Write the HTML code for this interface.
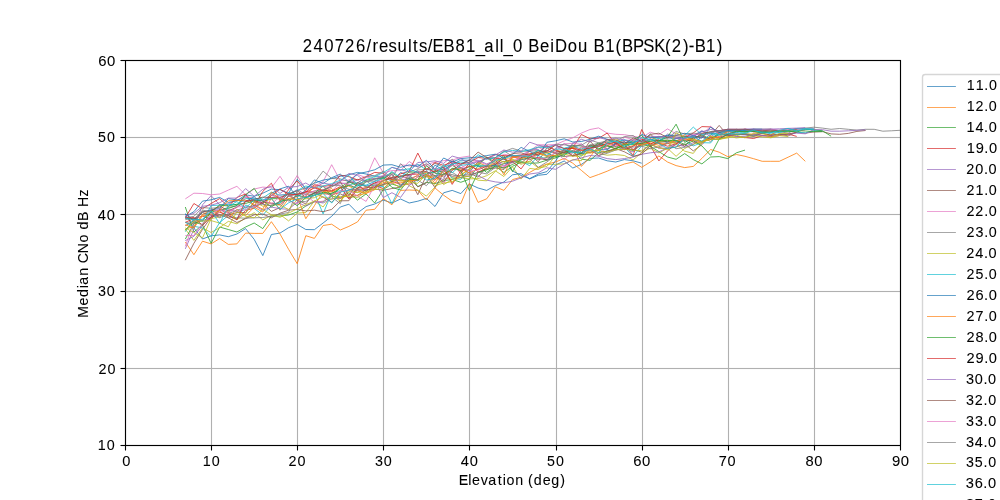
<!DOCTYPE html>
<html lang="en"><head><meta charset="utf-8"><title>240726/results/EB81_all_0 BeiDou B1(BPSK(2)-B1)</title>
<style>html,body{margin:0;padding:0;background:#fff;overflow:hidden}body{width:1000px;height:500px;font-family:"Liberation Sans", sans-serif}svg{display:block;will-change:transform}text{font-family:"Liberation Sans", sans-serif;fill:#000;stroke:#000;stroke-width:0.07px}</style>
</head><body>
<svg width="1000" height="500" viewBox="0 0 1000 500">
<rect x="0" y="0" width="1000" height="500" fill="#ffffff"/>
<g stroke="#b0b0b0" stroke-width="1.11" fill="none">
<line x1="125.5" y1="60.5" x2="125.5" y2="445.5"/>
<line x1="211.5" y1="60.5" x2="211.5" y2="445.5"/>
<line x1="297.5" y1="60.5" x2="297.5" y2="445.5"/>
<line x1="383.5" y1="60.5" x2="383.5" y2="445.5"/>
<line x1="469.5" y1="60.5" x2="469.5" y2="445.5"/>
<line x1="556.5" y1="60.5" x2="556.5" y2="445.5"/>
<line x1="642.5" y1="60.5" x2="642.5" y2="445.5"/>
<line x1="728.5" y1="60.5" x2="728.5" y2="445.5"/>
<line x1="814.5" y1="60.5" x2="814.5" y2="445.5"/>
<line x1="900.5" y1="60.5" x2="900.5" y2="445.5"/>
<rect x="125.5" y="444.945" width="775" height="1.11" fill="#b0b0b0" stroke="none"/>
<rect x="125.5" y="367.945" width="775" height="1.11" fill="#b0b0b0" stroke="none"/>
<rect x="125.5" y="290.945" width="775" height="1.11" fill="#b0b0b0" stroke="none"/>
<rect x="125.5" y="213.945" width="775" height="1.11" fill="#b0b0b0" stroke="none"/>
<rect x="125.5" y="136.945" width="775" height="1.11" fill="#b0b0b0" stroke="none"/>
<rect x="125.5" y="59.945" width="775" height="1.11" fill="#b0b0b0" stroke="none"/>
</g>
<clipPath id="ax"><rect x="125.5" y="60.5" width="775" height="385"/></clipPath>
<g clip-path="url(#ax)" fill="none" stroke-width="0.82" stroke-linejoin="round" stroke-linecap="butt">
<polyline stroke="#1f77b4" points="185.3,214.0 193.9,228.0 202.5,239.0 211.1,235.8 219.7,234.9 228.3,236.7 236.9,234.0 245.6,228.6 254.2,239.4 262.8,255.6 271.4,234.5 280.0,233.1 288.6,227.7 297.2,224.4 305.8,229.5 314.4,229.7 323.1,223.0 331.7,216.3 340.3,207.0 348.9,204.2 357.5,212.9 366.1,206.6 374.7,204.0 383.3,200.0 391.9,203.0 400.6,199.0 409.2,203.0 417.8,201.2 426.4,198.4 435.0,206.5 443.6,192.8 452.2,190.4 460.8,193.6 469.4,184.0 478.1,188.0 486.7,190.4 495.3,185.6 503.9,182.0 512.5,174.8 521.1,173.6 529.7,178.9 538.3,175.3 546.9,174.3 555.6,165.0 564.2,161.0 572.8,168.0 581.4,164.4 590.0,158.4 598.6,158.0 607.2,160.8 615.8,162.0 624.4,159.6 633.1,160.8 641.7,163.2"/>
<polyline stroke="#ff7f0e" points="185.3,242.0 193.9,254.7 202.5,241.2 211.1,243.9 219.7,238.5 228.3,244.4 236.9,243.9 245.6,233.1 254.2,233.4 262.8,233.4 271.4,221.7 280.0,234.0 288.6,249.3 297.2,263.7 305.8,235.7 314.4,238.4 323.1,225.5 331.7,224.2 340.3,230.0 348.9,226.4 357.5,221.9 366.1,210.2 374.7,209.3 383.3,198.5 391.9,204.8 400.6,190.4 409.2,190.0 417.8,190.4 426.4,200.0 435.0,188.0 443.6,195.2 452.2,201.2 460.8,203.6 469.4,183.2 478.1,202.4 486.7,198.8 495.3,186.8 503.9,190.4 512.5,179.6 521.1,177.2 529.7,172.4 538.3,167.6 546.9,164.0 555.6,162.0 564.2,158.4 572.8,163.2 581.4,170.4 590.0,177.6 598.6,174.5 607.2,171.2 615.8,167.3 624.4,164.0 633.1,162.0 641.7,167.3 650.3,162.0 658.9,156.0 667.5,162.0 676.1,165.6 684.7,167.6 693.3,166.4 701.9,158.4 710.6,149.5 719.2,152.2 727.8,156.7 736.4,154.5 745.0,156.3 753.6,158.7 762.2,161.3 770.8,161.3 779.4,161.3 788.1,157.2 796.7,153.1 805.3,161.3"/>
<polyline stroke="#2ca02c" points="185.3,207.0 193.9,232.0 202.5,225.0 211.1,243.3 219.7,227.0 228.3,229.5 236.9,232.0 245.6,227.0 254.2,223.0 262.8,228.6 271.4,216.0 280.0,216.0 288.6,215.0 297.2,212.0 305.8,206.0 314.4,201.7 323.1,201.9 331.7,196.0 340.3,198.0 348.9,192.7 357.5,200.1 366.1,193.9 374.7,203.0 383.3,189.5 391.9,184.0 400.6,186.8 409.2,174.2 417.8,186.6 426.4,182.3 435.0,183.6 443.6,180.7 452.2,179.4 460.8,182.3 469.4,179.2 478.1,165.4 486.7,172.5 495.3,166.1 503.9,172.5 512.5,166.3 521.1,162.3 529.7,163.3 538.3,162.9 546.9,160.2 555.6,157.9 564.2,154.0 572.8,151.5 581.4,159.1 590.0,160.4 598.6,152.9 607.2,151.3 615.8,148.0 624.4,145.8 633.1,150.9 641.7,144.7 650.3,146.2 658.9,151.6 667.5,157.0 676.1,159.3 684.7,153.6 693.3,159.6 701.9,163.9 710.6,157.0 719.2,156.6 727.8,158.6 736.4,152.8 745.0,150.1"/>
<polyline stroke="#d62728" points="185.3,222.3 193.9,218.7 202.5,216.1 211.1,219.1 219.7,209.2 228.3,212.4 236.9,219.4 245.6,210.5 254.2,208.1 262.8,202.0 271.4,203.1 280.0,204.8 288.6,195.7 297.2,194.4 305.8,191.7 314.4,192.1 323.1,193.7 331.7,194.4 340.3,192.6 348.9,181.1 357.5,184.5 366.1,191.5 374.7,185.4 383.3,188.6 391.9,181.3 400.6,184.3 409.2,184.1 417.8,176.9 426.4,174.8 435.0,180.3 443.6,170.6 452.2,163.1 460.8,173.6 469.4,163.2 478.1,172.0 486.7,168.5 495.3,165.0 503.9,167.8 512.5,156.9 521.1,156.1 529.7,159.3 538.3,157.3 546.9,160.2 555.6,155.5 564.2,149.4 572.8,156.2 581.4,152.7 590.0,148.9 598.6,144.5 607.2,142.0 615.8,146.2 624.4,143.9 633.1,155.5 641.7,129.5 650.3,145.5 658.9,160.9 667.5,150.9 676.1,143.9 684.7,140.1 693.3,140.8 701.9,141.4 710.6,137.3 719.2,137.1 727.8,135.0 736.4,136.2 745.0,137.5 753.6,138.5 762.2,135.7 770.8,136.6 779.4,135.5 788.1,134.0 796.7,136.4"/>
<polyline stroke="#9467bd" points="185.3,248.9 193.9,229.2 202.5,204.8 211.1,195.7 219.7,204.8 228.3,203.8 236.9,200.0 245.6,197.5 254.2,199.8 262.8,200.3 271.4,194.8 280.0,197.7 288.6,194.8 297.2,189.6 305.8,194.7 314.4,193.7 323.1,190.1 331.7,185.7 340.3,183.7 348.9,183.0 357.5,180.1 366.1,186.2 374.7,183.4 383.3,177.5 391.9,178.9 400.6,180.1 409.2,178.6 417.8,175.8 426.4,171.1 435.0,178.3 443.6,168.6 452.2,161.0 460.8,164.3 469.4,159.8 478.1,160.4 486.7,163.9 495.3,160.7 503.9,166.3 512.5,155.4 521.1,158.1 529.7,150.1 538.3,149.4 546.9,156.5 555.6,148.3 564.2,143.6 572.8,148.3 581.4,143.8 590.0,150.5 598.6,144.8 607.2,149.2 615.8,142.8 624.4,148.1 633.1,152.0 641.7,141.8 650.3,133.9 658.9,142.3 667.5,134.0 676.1,137.0 684.7,138.6 693.3,135.4 701.9,130.7 710.6,136.7 719.2,131.5 727.8,129.7 736.4,132.8 745.0,129.2 753.6,129.2 762.2,131.6 770.8,129.2 779.4,130.3 788.1,130.5 796.7,128.6 805.3,129.2 813.9,129.0"/>
<polyline stroke="#8c564b" points="185.3,260.2 193.9,243.3 202.5,229.4 211.1,217.1 219.7,215.0 228.3,214.8 236.9,212.6 245.6,212.7 254.2,202.2 262.8,203.4 271.4,211.4 280.0,207.6 288.6,195.7 297.2,200.0 305.8,203.9 314.4,192.4 323.1,197.1 331.7,202.2 340.3,193.9 348.9,197.7 357.5,195.4 366.1,189.7 374.7,189.0 383.3,190.3 391.9,188.5 400.6,187.1 409.2,177.9 417.8,186.8 426.4,182.9 435.0,170.3 443.6,177.1 452.2,169.4 460.8,167.5 469.4,173.1 478.1,177.2 486.7,166.8 495.3,164.5 503.9,161.4 512.5,162.7 521.1,157.7 529.7,154.8 538.3,161.8 546.9,147.7 555.6,153.0 564.2,156.5 572.8,155.6 581.4,147.1 590.0,147.0 598.6,156.0 607.2,150.6 615.8,149.8 624.4,149.0 633.1,149.4 641.7,152.2 650.3,144.2 658.9,148.1 667.5,148.3 676.1,146.9 684.7,143.9 693.3,150.9 701.9,144.7 710.6,135.5 719.2,125.4 727.8,135.5 736.4,134.4 745.0,134.6 753.6,134.7 762.2,135.3 770.8,135.3 779.4,134.2 788.1,135.9 796.7,132.2 805.3,133.1 813.9,132.0 822.5,131.6 831.1,133.9 839.7,134.3 848.3,133.4 856.9,131.4 865.6,130.5"/>
<polyline stroke="#e377c2" points="185.3,198.9 193.9,193.2 202.5,193.5 211.1,194.8 219.7,194.0 228.3,190.1 236.9,186.3 245.6,194.8 254.2,189.0 262.8,187.1 271.4,187.8 280.0,176.3 288.6,189.4 297.2,175.5 305.8,189.4 314.4,186.3 323.1,181.7 331.7,164.7 340.3,180.9 348.9,180.0 357.5,174.3 366.1,177.8 374.7,157.8 383.3,172.9 391.9,170.6 400.6,170.6 409.2,161.5 417.8,167.4 426.4,164.7 435.0,162.0 443.6,160.7 452.2,160.1 460.8,157.4 469.4,156.1 478.1,162.3 486.7,157.9 495.3,159.5 503.9,154.2 512.5,156.0 521.1,154.8 529.7,150.9 538.3,144.8 546.9,144.8 555.6,144.6 564.2,140.9 572.8,137.8 581.4,133.1 590.0,129.5 598.6,127.9 607.2,133.1 615.8,134.3 624.4,134.7 633.1,136.2 641.7,137.8 650.3,132.2 658.9,134.7 667.5,128.9 676.1,133.9 684.7,136.4 693.3,133.8 701.9,143.5 710.6,132.7 719.2,130.7 727.8,129.3 736.4,129.3 745.0,130.3 753.6,129.2 762.2,130.1 770.8,129.1 779.4,130.6 788.1,128.7 796.7,129.3 805.3,128.4 813.9,128.6"/>
<polyline stroke="#7f7f7f" points="185.3,219.7 193.9,218.0 202.5,220.7 211.1,217.4 219.7,210.4 228.3,207.4 236.9,205.9 245.6,195.5 254.2,201.2 262.8,200.3 271.4,203.8 280.0,203.1 288.6,196.2 297.2,193.5 305.8,194.0 314.4,190.9 323.1,190.0 331.7,196.8 340.3,203.7 348.9,180.4 357.5,179.4 366.1,180.9 374.7,186.9 383.3,185.2 391.9,173.5 400.6,185.8 409.2,177.3 417.8,169.9 426.4,169.5 435.0,163.3 443.6,167.3 452.2,159.2 460.8,167.5 469.4,170.7 478.1,163.8 486.7,157.4 495.3,159.2 503.9,150.7 512.5,156.5 521.1,159.5 529.7,150.9 538.3,147.4 546.9,145.7 555.6,149.9 564.2,152.8 572.8,153.0 581.4,148.9 590.0,144.9 598.6,143.4 607.2,148.7 615.8,144.0 624.4,142.9 633.1,141.9 641.7,141.4 650.3,141.5 658.9,138.8 667.5,139.0 676.1,138.4 684.7,140.7 693.3,137.1 701.9,137.0 710.6,141.6 719.2,133.1 727.8,132.1 736.4,129.3 745.0,131.5 753.6,131.7 762.2,131.4 770.8,131.6 779.4,131.8 788.1,133.0 796.7,129.3 805.3,128.1 813.9,127.2 822.5,128.1 831.1,129.3 839.7,128.5 848.3,129.3 856.9,130.1 865.6,129.3 874.2,129.3 882.8,131.2 891.4,130.8 900.0,130.3"/>
<polyline stroke="#bcbd22" points="185.3,229.1 193.9,240.4 202.5,228.0 211.1,232.5 219.7,227.6 228.3,221.4 236.9,223.8 245.6,217.8 254.2,212.7 262.8,219.9 271.4,215.2 280.0,214.5 288.6,220.9 297.2,213.1 305.8,212.5 314.4,200.9 323.1,207.0 331.7,195.2 340.3,201.2 348.9,190.0 357.5,192.3 366.1,191.9 374.7,183.9 383.3,185.1 391.9,182.0 400.6,178.7 409.2,185.7 417.8,190.2 426.4,196.1 435.0,187.1 443.6,179.1 452.2,177.9 460.8,177.8 469.4,178.9 478.1,178.6 486.7,175.7 495.3,170.8 503.9,176.5 512.5,166.8 521.1,179.1 529.7,168.4 538.3,169.5 546.9,164.4 555.6,164.3 564.2,163.9 572.8,159.6 581.4,160.7 590.0,147.5 598.6,153.5 607.2,155.2 615.8,154.5 624.4,155.5 633.1,160.0 641.7,152.5 650.3,148.2 658.9,152.9 667.5,148.3 676.1,156.3 684.7,148.5 693.3,144.1 701.9,141.8 710.6,139.6 719.2,139.3 727.8,136.3 736.4,137.9 745.0,136.9 753.6,135.9 762.2,136.8 770.8,137.8 779.4,135.6 788.1,136.5"/>
<polyline stroke="#17becf" points="185.3,222.5 193.9,226.3 202.5,227.9 211.1,236.6 219.7,222.5 228.3,215.5 236.9,218.8 245.6,205.0 254.2,208.4 262.8,215.1 271.4,205.4 280.0,203.0 288.6,192.6 297.2,194.4 305.8,198.2 314.4,192.8 323.1,213.9 331.7,192.8 340.3,190.6 348.9,185.1 357.5,182.6 366.1,186.0 374.7,185.0 383.3,186.7 391.9,203.6 400.6,185.7 409.2,178.0 417.8,181.1 426.4,173.0 435.0,172.4 443.6,168.4 452.2,178.1 460.8,179.4 469.4,168.4 478.1,164.9 486.7,165.6 495.3,165.7 503.9,163.8 512.5,161.5 521.1,161.3 529.7,165.7 538.3,155.4 546.9,160.0 555.6,155.8 564.2,154.0 572.8,150.8 581.4,155.8 590.0,146.5 598.6,145.3 607.2,144.2 615.8,141.9 624.4,147.2 633.1,156.4 641.7,145.8 650.3,139.8 658.9,138.4 667.5,142.9 676.1,142.2 684.7,140.3 693.3,145.9 701.9,142.7 710.6,142.9 719.2,132.5 727.8,135.6 736.4,131.8 745.0,133.1 753.6,135.6 762.2,131.1 770.8,134.0 779.4,132.4 788.1,130.5 796.7,132.2 805.3,132.9 813.9,130.6 822.5,130.8"/>
<polyline stroke="#1f77b4" points="185.3,216.6 193.9,211.7 202.5,201.1 211.1,199.8 219.7,197.4 228.3,202.4 236.9,200.9 245.6,194.8 254.2,196.3 262.8,193.2 271.4,189.1 280.0,189.7 288.6,193.2 297.2,179.3 305.8,188.6 314.4,183.2 323.1,180.1 331.7,178.6 340.3,176.3 348.9,174.7 357.5,172.4 366.1,174.0 374.7,176.2 383.3,176.4 391.9,181.4 400.6,172.5 409.2,175.9 417.8,171.0 426.4,176.9 435.0,165.1 443.6,170.2 452.2,164.5 460.8,160.2 469.4,160.2 478.1,166.6 486.7,166.5 495.3,164.8 503.9,157.7 512.5,170.9 521.1,175.5 529.7,178.6 538.3,174.0 546.9,171.6 555.6,160.9 564.2,148.4 572.8,147.6 581.4,153.6 590.0,152.5 598.6,149.3 607.2,149.8 615.8,143.5 624.4,140.1 633.1,142.9 641.7,143.4 650.3,145.7 658.9,141.2 667.5,142.0 676.1,138.7 684.7,136.7 693.3,136.5 701.9,131.2 710.6,133.6 719.2,132.7 727.8,129.3 736.4,130.5 745.0,130.5 753.6,131.5"/>
<polyline stroke="#ff7f0e" points="185.3,229.2 193.9,226.3 202.5,214.4 211.1,210.4 219.7,210.9 228.3,217.8 236.9,209.4 245.6,215.5 254.2,207.2 262.8,212.0 271.4,198.3 280.0,210.2 288.6,198.6 297.2,196.8 305.8,218.7 314.4,205.7 323.1,191.5 331.7,188.5 340.3,198.6 348.9,194.7 357.5,195.3 366.1,193.4 374.7,189.8 383.3,177.3 391.9,179.7 400.6,180.9 409.2,180.5 417.8,174.9 426.4,172.3 435.0,183.4 443.6,169.7 452.2,182.6 460.8,175.1 469.4,169.4 478.1,162.2 486.7,166.4 495.3,163.8 503.9,158.3 512.5,157.9 521.1,155.3 529.7,153.8 538.3,154.9 546.9,152.8 555.6,150.4 564.2,152.2 572.8,146.8 581.4,166.4 590.0,157.1 598.6,145.7 607.2,145.7 615.8,148.9 624.4,144.0 633.1,141.5 641.7,145.6 650.3,141.7 658.9,143.4 667.5,143.3 676.1,142.7 684.7,134.1 693.3,142.4 701.9,143.2 710.6,136.5 719.2,138.3 727.8,137.0 736.4,133.9 745.0,133.9 753.6,134.1 762.2,133.7 770.8,134.9 779.4,130.2"/>
<polyline stroke="#2ca02c" points="185.3,239.1 193.9,223.9 202.5,220.3 211.1,212.2 219.7,210.0 228.3,208.5 236.9,205.4 245.6,194.6 254.2,188.4 262.8,201.8 271.4,198.7 280.0,198.6 288.6,200.8 297.2,195.4 305.8,197.3 314.4,193.1 323.1,186.2 331.7,196.0 340.3,187.4 348.9,181.8 357.5,186.0 366.1,180.3 374.7,178.2 383.3,178.7 391.9,172.5 400.6,178.8 409.2,172.0 417.8,172.3 426.4,174.4 435.0,170.7 443.6,172.0 452.2,165.2 460.8,171.1 469.4,166.6 478.1,165.2 486.7,157.1 495.3,162.5 503.9,155.6 512.5,171.6 521.1,157.4 529.7,154.8 538.3,150.5 546.9,152.8 555.6,157.0 564.2,155.9 572.8,145.7 581.4,145.9 590.0,148.4 598.6,143.1 607.2,146.1 615.8,146.5 624.4,147.7 633.1,139.8 641.7,135.3 650.3,147.1 658.9,140.8 667.5,137.1 676.1,124.2 684.7,142.4 693.3,138.2 701.9,135.0 710.6,139.1 719.2,132.8 727.8,131.2 736.4,130.4 745.0,132.1 753.6,131.1 762.2,132.2 770.8,131.0 779.4,130.9 788.1,131.2 796.7,132.0 805.3,129.3 813.9,129.7 822.5,130.8 831.1,136.2"/>
<polyline stroke="#d62728" points="185.3,217.8 193.9,203.5 202.5,208.8 211.1,203.5 219.7,198.6 228.3,206.5 236.9,197.4 245.6,194.0 254.2,206.5 262.8,191.4 271.4,183.2 280.0,200.9 288.6,189.7 297.2,180.9 305.8,191.7 314.4,184.7 323.1,186.4 331.7,185.4 340.3,175.2 348.9,176.7 357.5,179.9 366.1,176.6 374.7,172.4 383.3,173.3 391.9,180.0 400.6,173.8 409.2,171.3 417.8,153.1 426.4,170.1 435.0,162.5 443.6,165.4 452.2,161.8 460.8,164.1 469.4,162.3 478.1,157.5 486.7,158.4 495.3,154.5 503.9,155.7 512.5,155.8 521.1,155.2 529.7,154.0 538.3,152.1 546.9,146.0 555.6,150.6 564.2,153.1 572.8,147.7 581.4,134.5 590.0,138.8 598.6,138.3 607.2,133.1 615.8,144.5 624.4,141.6 633.1,149.6 641.7,143.9 650.3,138.6 658.9,143.5 667.5,146.2 676.1,143.8 684.7,138.0 693.3,132.9 701.9,126.6 710.6,126.9 719.2,133.8 727.8,134.2 736.4,131.1 745.0,129.2 753.6,131.8 762.2,132.3 770.8,132.1 779.4,130.5 788.1,130.1 796.7,129.1"/>
<polyline stroke="#9467bd" points="185.3,240.6 193.9,236.3 202.5,225.7 211.1,215.1 219.7,216.9 228.3,209.6 236.9,211.6 245.6,209.6 254.2,205.5 262.8,210.2 271.4,207.1 280.0,208.7 288.6,209.3 297.2,202.3 305.8,206.1 314.4,201.4 323.1,203.0 331.7,198.7 340.3,198.3 348.9,189.5 357.5,190.6 366.1,189.5 374.7,181.0 383.3,197.6 391.9,192.7 400.6,197.4 409.2,185.4 417.8,179.4 426.4,175.8 435.0,175.8 443.6,179.8 452.2,161.0 460.8,169.0 469.4,170.9 478.1,175.5 486.7,180.1 495.3,181.9 503.9,182.8 512.5,181.2 521.1,177.8 529.7,174.0 538.3,172.8 546.9,167.8 555.6,169.3 564.2,163.9 572.8,160.1 581.4,157.8 590.0,155.5 598.6,156.2 607.2,158.6 615.8,159.6 624.4,158.6 633.1,157.0 641.7,154.3 650.3,152.8 658.9,151.9 667.5,147.8 676.1,144.7 684.7,146.4 693.3,142.8 701.9,137.0 710.6,139.0 719.2,139.3 727.8,134.4 736.4,136.5 745.0,136.2 753.6,134.2 762.2,135.7 770.8,135.6 779.4,134.1 788.1,134.1 796.7,133.2 805.3,133.8 813.9,129.6 822.5,129.7 831.1,131.2 839.7,131.2 848.3,130.8 856.9,130.3 865.6,129.9"/>
<polyline stroke="#8c564b" points="185.3,225.7 193.9,220.7 202.5,212.6 211.1,215.0 219.7,214.8 228.3,217.8 236.9,222.5 245.6,218.6 254.2,214.8 262.8,214.0 271.4,217.8 280.0,213.2 288.6,210.2 297.2,209.4 305.8,210.9 314.4,210.2 323.1,211.7 331.7,209.4 340.3,200.8 348.9,200.7 357.5,189.5 366.1,190.4 374.7,187.5 383.3,184.4 391.9,181.8 400.6,176.1 409.2,178.6 417.8,194.7 426.4,175.2 435.0,187.6 443.6,173.0 452.2,176.3 460.8,175.4 469.4,174.8 478.1,172.5 486.7,169.1 495.3,168.0 503.9,169.5 512.5,160.9 521.1,163.2 529.7,155.5 538.3,158.5 546.9,159.6 555.6,152.3 564.2,150.5 572.8,155.6 581.4,153.8 590.0,141.0 598.6,150.7 607.2,152.4 615.8,148.5 624.4,151.8 633.1,156.4 641.7,154.1 650.3,145.9 658.9,142.4 667.5,141.3 676.1,141.3 684.7,146.3 693.3,137.2 701.9,135.9 710.6,139.6 719.2,134.5 727.8,135.2 736.4,134.7 745.0,134.2 753.6,136.5 762.2,133.1 770.8,135.2 779.4,134.4 788.1,134.1 796.7,132.1"/>
<polyline stroke="#e377c2" points="185.3,246.3 193.9,221.7 202.5,220.0 211.1,209.8 219.7,210.7 228.3,211.7 236.9,207.5 245.6,196.3 254.2,198.4 262.8,200.7 271.4,197.6 280.0,194.9 288.6,194.3 297.2,201.1 305.8,192.6 314.4,191.3 323.1,185.8 331.7,191.1 340.3,182.5 348.9,184.4 357.5,188.7 366.1,176.8 374.7,179.1 383.3,175.3 391.9,175.1 400.6,164.7 409.2,165.9 417.8,165.1 426.4,165.1 435.0,172.4 443.6,183.9 452.2,168.4 460.8,168.4 469.4,162.9 478.1,161.1 486.7,164.8 495.3,163.2 503.9,167.9 512.5,160.8 521.1,156.7 529.7,151.3 538.3,147.1 546.9,151.8 555.6,150.7 564.2,143.9 572.8,143.3 581.4,144.3 590.0,152.2 598.6,149.0 607.2,143.9 615.8,147.2 624.4,137.1 633.1,139.7 641.7,139.2 650.3,142.9 658.9,148.4 667.5,143.1 676.1,141.2 684.7,139.1 693.3,134.4 701.9,134.5 710.6,126.3 719.2,133.7 727.8,130.2 736.4,130.3 745.0,129.2 753.6,130.5 762.2,129.8 770.8,131.6 779.4,130.2 788.1,129.7 796.7,130.4 805.3,130.1"/>
<polyline stroke="#7f7f7f" points="185.3,217.7 193.9,216.4 202.5,207.5 211.1,208.3 219.7,207.5 228.3,217.1 236.9,217.8 245.6,218.2 254.2,217.8 262.8,217.5 271.4,216.3 280.0,214.0 288.6,212.5 297.2,190.7 305.8,188.1 314.4,182.8 323.1,171.1 331.7,178.5 340.3,178.9 348.9,181.6 357.5,183.5 366.1,176.8 374.7,175.7 383.3,171.3 391.9,178.3 400.6,163.6 409.2,172.2 417.8,168.7 426.4,163.6 435.0,169.5 443.6,169.9 452.2,172.3 460.8,177.7 469.4,172.2 478.1,161.9 486.7,157.9 495.3,157.6 503.9,151.5 512.5,148.4 521.1,151.0 529.7,151.3 538.3,150.6 546.9,151.7 555.6,144.3 564.2,144.8 572.8,145.9 581.4,145.2 590.0,140.0 598.6,142.8 607.2,141.0 615.8,141.1 624.4,136.6 633.1,135.5 641.7,142.1 650.3,139.8 658.9,136.3 667.5,138.4 676.1,131.5 684.7,134.0 693.3,133.1 701.9,134.1 710.6,131.6 719.2,130.7 727.8,131.3 736.4,131.4 745.0,131.5 753.6,129.2 762.2,129.2 770.8,129.1"/>
<polyline stroke="#bcbd22" points="185.3,227.9 193.9,232.5 202.5,237.9 211.1,218.6 219.7,216.9 228.3,210.5 236.9,219.9 245.6,213.2 254.2,201.4 262.8,206.2 271.4,205.1 280.0,204.9 288.6,209.6 297.2,199.5 305.8,198.8 314.4,197.7 323.1,193.5 331.7,190.8 340.3,201.2 348.9,191.5 357.5,192.6 366.1,186.9 374.7,189.3 383.3,189.2 391.9,180.0 400.6,180.8 409.2,181.0 417.8,179.9 426.4,176.8 435.0,175.7 443.6,184.6 452.2,179.6 460.8,174.8 469.4,168.8 478.1,163.6 486.7,169.9 495.3,159.3 503.9,161.9 512.5,159.8 521.1,162.1 529.7,161.8 538.3,153.3 546.9,156.6 555.6,155.2 564.2,149.7 572.8,146.2 581.4,155.0 590.0,152.4 598.6,149.8 607.2,142.8 615.8,138.7 624.4,144.1 633.1,143.9 641.7,141.6 650.3,135.0 658.9,142.2 667.5,140.0 676.1,144.1 684.7,151.2 693.3,153.4 701.9,142.3 710.6,136.0 719.2,139.3 727.8,137.9 736.4,135.2 745.0,137.9 753.6,133.4 762.2,132.6 770.8,137.3 779.4,133.5 788.1,133.3"/>
<polyline stroke="#17becf" points="185.3,231.7 193.9,218.3 202.5,221.6 211.1,205.6 219.7,205.1 228.3,204.5 236.9,204.7 245.6,198.6 254.2,198.7 262.8,198.0 271.4,192.2 280.0,195.2 288.6,194.2 297.2,190.6 305.8,186.0 314.4,187.9 323.1,186.0 331.7,183.6 340.3,180.2 348.9,175.4 357.5,185.1 366.1,179.6 374.7,176.7 383.3,172.5 391.9,167.3 400.6,170.0 409.2,168.8 417.8,164.3 426.4,169.9 435.0,169.1 443.6,167.0 452.2,164.2 460.8,162.0 469.4,163.1 478.1,154.7 486.7,159.3 495.3,157.6 503.9,152.0 512.5,150.4 521.1,151.6 529.7,149.7 538.3,147.0 546.9,147.8 555.6,145.2 564.2,148.3 572.8,145.6 581.4,149.4 590.0,147.2 598.6,146.9 607.2,139.3 615.8,141.8 624.4,139.8 633.1,142.2 641.7,140.5 650.3,139.7 658.9,140.8 667.5,135.6 676.1,141.6 684.7,135.6 693.3,127.1 701.9,134.9 710.6,132.6 719.2,134.5 727.8,130.4 736.4,132.5 745.0,129.6 753.6,130.5 762.2,132.5 770.8,132.3 779.4,132.1 788.1,130.4 796.7,128.5 805.3,129.1 813.9,129.7"/>
<polyline stroke="#1f77b4" points="185.3,213.7 193.9,220.4 202.5,212.0 211.1,209.8 219.7,208.5 228.3,198.6 236.9,200.0 245.6,201.4 254.2,196.8 262.8,203.6 271.4,193.3 280.0,188.9 288.6,186.2 297.2,197.1 305.8,190.1 314.4,179.9 323.1,183.5 331.7,177.7 340.3,174.1 348.9,182.2 357.5,173.8 366.1,172.0 374.7,169.8 383.3,165.1 391.9,164.7 400.6,167.3 409.2,164.9 417.8,166.5 426.4,160.3 435.0,169.1 443.6,158.0 452.2,162.0 460.8,158.6 469.4,157.8 478.1,157.0 486.7,155.6 495.3,154.2 503.9,158.1 512.5,154.4 521.1,147.4 529.7,151.4 538.3,155.8 546.9,142.3 555.6,140.8 564.2,138.8 572.8,142.0 581.4,141.5 590.0,139.3 598.6,136.2 607.2,139.3 615.8,143.6 624.4,142.1 633.1,143.5 641.7,134.4 650.3,137.5 658.9,137.2 667.5,135.3 676.1,135.3 684.7,133.3 693.3,135.5 701.9,138.2 710.6,127.1 719.2,132.5 727.8,130.5 736.4,130.2 745.0,129.8 753.6,129.2 762.2,129.2"/>
<polyline stroke="#ff7f0e" points="185.3,224.8 193.9,228.0 202.5,215.8 211.1,214.7 219.7,210.4 228.3,200.7 236.9,200.7 245.6,200.1 254.2,204.7 262.8,209.2 271.4,192.2 280.0,199.3 288.6,198.8 297.2,199.8 305.8,196.3 314.4,185.9 323.1,191.6 331.7,192.0 340.3,187.6 348.9,186.0 357.5,190.7 366.1,193.2 374.7,187.1 383.3,182.6 391.9,182.9 400.6,182.8 409.2,181.3 417.8,179.7 426.4,174.6 435.0,179.1 443.6,174.8 452.2,169.1 460.8,168.9 469.4,173.1 478.1,168.6 486.7,165.0 495.3,160.0 503.9,174.9 512.5,156.8 521.1,158.6 529.7,155.6 538.3,152.5 546.9,155.8 555.6,155.4 564.2,152.1 572.8,147.9 581.4,150.2 590.0,153.2 598.6,150.7 607.2,145.7 615.8,141.8 624.4,147.9 633.1,145.7 641.7,144.1 650.3,143.2 658.9,145.3 667.5,143.7 676.1,140.6 684.7,139.9 693.3,139.1 701.9,141.5 710.6,138.9 719.2,136.5 727.8,131.7"/>
<polyline stroke="#2ca02c" points="185.3,229.9 193.9,221.9 202.5,224.7 211.1,211.7 219.7,205.0 228.3,206.0 236.9,204.2 245.6,203.5 254.2,200.8 262.8,200.5 271.4,206.9 280.0,201.4 288.6,199.4 297.2,205.7 305.8,197.5 314.4,195.1 323.1,192.3 331.7,193.7 340.3,188.2 348.9,185.2 357.5,188.5 366.1,181.8 374.7,179.1 383.3,177.3 391.9,187.4 400.6,190.0 409.2,179.1 417.8,179.9 426.4,165.7 435.0,173.2 443.6,174.6 452.2,168.3 460.8,170.4 469.4,190.6 478.1,172.4 486.7,169.9 495.3,166.1 503.9,168.1 512.5,164.5 521.1,159.9 529.7,157.3 538.3,159.4 546.9,157.4 555.6,156.3 564.2,151.9 572.8,151.0 581.4,153.9 590.0,145.0 598.6,148.8 607.2,145.6 615.8,148.8 624.4,144.7 633.1,144.6 641.7,143.3 650.3,141.2 658.9,140.5 667.5,140.7 676.1,140.4 684.7,144.6 693.3,140.9 701.9,145.9 710.6,155.3 719.2,138.9 727.8,134.2 736.4,131.3 745.0,131.7 753.6,131.3 762.2,133.0 770.8,131.8 779.4,131.0 788.1,131.2 796.7,130.7 805.3,131.0 813.9,131.6 822.5,131.6"/>
<polyline stroke="#d62728" points="185.3,218.1 193.9,217.5 202.5,225.3 211.1,216.8 219.7,212.2 228.3,215.5 236.9,219.8 245.6,200.8 254.2,200.5 262.8,203.4 271.4,195.7 280.0,189.2 288.6,194.4 297.2,194.5 305.8,192.2 314.4,187.9 323.1,190.4 331.7,190.9 340.3,186.7 348.9,199.1 357.5,187.7 366.1,188.3 374.7,182.8 383.3,180.9 391.9,177.3 400.6,176.1 409.2,174.7 417.8,174.0 426.4,168.6 435.0,172.0 443.6,166.9 452.2,184.4 460.8,170.8 469.4,165.8 478.1,169.8 486.7,166.2 495.3,158.0 503.9,159.4 512.5,161.4 521.1,168.9 529.7,157.1 538.3,154.1 546.9,150.9 555.6,145.1 564.2,148.7 572.8,148.5 581.4,150.4 590.0,148.0 598.6,146.5 607.2,143.4 615.8,142.6 624.4,149.7 633.1,146.3 641.7,139.1 650.3,144.2 658.9,139.6"/>
<polyline stroke="#9467bd" points="185.3,216.1 193.9,213.3 202.5,206.3 211.1,205.2 219.7,202.7 228.3,198.1 236.9,198.1 245.6,188.6 254.2,196.3 262.8,189.3 271.4,186.0 280.0,193.5 288.6,187.1 297.2,186.6 305.8,183.0 314.4,188.1 323.1,183.0 331.7,184.7 340.3,181.5 348.9,173.4 357.5,175.4 366.1,181.9 374.7,179.2 383.3,176.4 391.9,167.3 400.6,169.6 409.2,172.0 417.8,162.5 426.4,161.9 435.0,160.8 443.6,163.4 452.2,156.1 460.8,158.5 469.4,164.2 478.1,161.7 486.7,158.9 495.3,155.0 503.9,150.0 512.5,152.2 521.1,151.5 529.7,142.2 538.3,145.2 546.9,146.8 555.6,144.7 564.2,152.4 572.8,143.3 581.4,139.3 590.0,142.0 598.6,137.6 607.2,139.7 615.8,138.1 624.4,140.2 633.1,140.4 641.7,141.9 650.3,136.2 658.9,136.7 667.5,136.3 676.1,138.4 684.7,138.7 693.3,136.4 701.9,131.8 710.6,129.5 719.2,130.7 727.8,129.3 736.4,129.3 745.0,129.2 753.6,129.2 762.2,129.2 770.8,129.1 779.4,128.8 788.1,128.4 796.7,128.1 805.3,127.6"/>
<polyline stroke="#8c564b" points="185.3,218.2 193.9,218.8 202.5,211.7 211.1,210.9 219.7,206.1 228.3,210.7 236.9,207.1 245.6,201.8 254.2,199.5 262.8,197.1 271.4,197.5 280.0,197.4 288.6,193.9 297.2,190.7 305.8,197.3 314.4,192.9 323.1,190.1 331.7,186.9 340.3,181.8 348.9,195.8 357.5,182.5 366.1,187.1 374.7,187.4 383.3,180.4 391.9,178.2 400.6,176.3 409.2,174.4 417.8,172.2 426.4,171.5 435.0,175.6 443.6,182.0 452.2,170.6 460.8,164.1 469.4,160.2 478.1,152.1 486.7,157.6 495.3,164.4 503.9,157.8 512.5,153.6 521.1,152.8 529.7,155.6 538.3,152.4 546.9,150.5 555.6,153.3 564.2,152.8 572.8,144.7 581.4,152.5 590.0,146.0 598.6,145.0 607.2,139.7 615.8,140.0 624.4,143.7 633.1,138.1 641.7,141.3 650.3,134.4 658.9,133.2 667.5,137.5 676.1,135.7 684.7,136.6 693.3,139.3 701.9,133.3 710.6,132.0 719.2,130.7 727.8,129.3 736.4,129.3 745.0,129.2 753.6,130.4 762.2,130.6 770.8,130.3 779.4,130.6"/>
<polyline stroke="#e377c2" points="185.3,235.6 193.9,235.4 202.5,223.4 211.1,214.3 219.7,208.1 228.3,213.8 236.9,206.8 245.6,206.7 254.2,206.9 262.8,200.3 271.4,203.9 280.0,196.7 288.6,200.8 297.2,203.8 305.8,195.3 314.4,202.1 323.1,201.2 331.7,194.9 340.3,191.2 348.9,190.2 357.5,196.2 366.1,201.4 374.7,185.2 383.3,179.7 391.9,184.0 400.6,178.3 409.2,176.0 417.8,171.5 426.4,175.9 435.0,168.0 443.6,171.6 452.2,165.5 460.8,165.0 469.4,171.2 478.1,170.1 486.7,164.7 495.3,159.7 503.9,165.8 512.5,162.7 521.1,156.7 529.7,154.9 538.3,158.8 546.9,158.1 555.6,152.1 564.2,159.8 572.8,151.8 581.4,146.9 590.0,147.4 598.6,156.7 607.2,144.9"/>
<polyline stroke="#7f7f7f" points="185.3,222.3 193.9,223.9 202.5,210.0 211.1,212.2 219.7,217.8 228.3,213.9 236.9,210.1 245.6,207.6 254.2,205.6 262.8,204.2 271.4,205.7 280.0,201.3 288.6,193.6 297.2,201.1 305.8,201.7 314.4,195.3 323.1,190.5 331.7,185.6 340.3,185.6 348.9,189.3 357.5,189.9 366.1,181.2 374.7,181.1 383.3,176.4 391.9,174.5 400.6,186.5 409.2,177.3 417.8,180.1 426.4,185.7 435.0,175.7 443.6,174.8 452.2,174.5 460.8,177.5 469.4,176.2 478.1,172.2 486.7,173.9 495.3,167.4 503.9,163.6 512.5,162.3 521.1,159.3 529.7,158.8 538.3,167.3 546.9,162.0 555.6,155.4 564.2,150.2 572.8,150.9 581.4,152.6 590.0,149.9 598.6,155.4 607.2,153.3 615.8,150.0 624.4,147.4 633.1,147.1 641.7,146.2 650.3,148.8 658.9,146.8 667.5,143.0 676.1,148.7 684.7,147.4 693.3,144.9 701.9,136.2 710.6,132.1 719.2,131.1 727.8,131.5 736.4,134.2 745.0,134.3 753.6,135.7 762.2,132.9"/>
<polyline stroke="#bcbd22" points="185.3,230.4 193.9,220.9 202.5,221.1 211.1,220.6 219.7,223.1 228.3,226.8 236.9,211.8 245.6,216.2 254.2,217.8 262.8,209.4 271.4,214.8 280.0,217.3 288.6,213.2 297.2,208.8 305.8,204.6 314.4,201.1 323.1,196.8 331.7,199.3 340.3,196.4 348.9,196.5 357.5,197.5 366.1,191.7 374.7,189.1 383.3,180.5 391.9,182.8 400.6,187.8 409.2,182.3 417.8,183.3 426.4,174.6 435.0,185.6 443.6,183.1 452.2,181.6 460.8,177.1 469.4,176.2 478.1,180.2 486.7,180.8 495.3,171.4 503.9,162.7 512.5,159.3 521.1,164.3 529.7,161.2 538.3,168.0 546.9,166.5 555.6,155.5 564.2,154.0 572.8,156.2 581.4,156.1 590.0,150.7 598.6,150.5 607.2,152.2 615.8,149.7 624.4,149.4 633.1,150.1 641.7,150.6 650.3,144.6 658.9,147.4 667.5,150.0 676.1,132.8 684.7,137.3 693.3,139.8 701.9,141.6 710.6,139.4 719.2,139.3 727.8,137.1"/>
<polyline stroke="#17becf" points="185.3,218.2 193.9,219.8 202.5,219.3 211.1,210.7 219.7,223.7 228.3,206.2 236.9,201.6 245.6,208.1 254.2,199.7 262.8,199.9 271.4,198.6 280.0,209.5 288.6,202.8 297.2,198.8 305.8,197.3 314.4,195.5 323.1,193.3 331.7,203.1 340.3,192.1 348.9,190.2 357.5,185.7 366.1,185.1 374.7,181.4 383.3,178.4 391.9,171.6 400.6,177.5 409.2,169.3 417.8,172.5 426.4,180.0 435.0,178.4 443.6,164.4 452.2,172.8 460.8,165.2 469.4,164.5 478.1,166.1 486.7,165.7 495.3,160.2 503.9,158.7 512.5,155.4 521.1,155.8 529.7,156.5 538.3,150.3 546.9,155.3 555.6,149.1 564.2,149.3 572.8,152.5 581.4,152.2 590.0,149.0 598.6,152.7 607.2,142.6 615.8,141.1 624.4,146.3 633.1,143.8 641.7,137.6 650.3,139.3 658.9,143.7 667.5,148.3 676.1,147.2 684.7,137.5 693.3,137.0 701.9,141.2 710.6,134.3 719.2,135.4 727.8,133.5 736.4,134.3 745.0,133.3 753.6,130.3 762.2,132.9 770.8,132.8 779.4,130.4 788.1,128.4 796.7,131.0 805.3,128.7 813.9,128.8"/>
</g>
<g stroke="#000" stroke-width="1.11" fill="none">
<line x1="125.5" y1="445.5" x2="125.5" y2="450.5"/>
<line x1="211.5" y1="445.5" x2="211.5" y2="450.5"/>
<line x1="297.5" y1="445.5" x2="297.5" y2="450.5"/>
<line x1="383.5" y1="445.5" x2="383.5" y2="450.5"/>
<line x1="469.5" y1="445.5" x2="469.5" y2="450.5"/>
<line x1="556.5" y1="445.5" x2="556.5" y2="450.5"/>
<line x1="642.5" y1="445.5" x2="642.5" y2="450.5"/>
<line x1="728.5" y1="445.5" x2="728.5" y2="450.5"/>
<line x1="814.5" y1="445.5" x2="814.5" y2="450.5"/>
<line x1="900.5" y1="445.5" x2="900.5" y2="450.5"/>
<line x1="120.5" y1="445.5" x2="125.5" y2="445.5"/>
<line x1="120.5" y1="368.5" x2="125.5" y2="368.5"/>
<line x1="120.5" y1="291.5" x2="125.5" y2="291.5"/>
<line x1="120.5" y1="214.5" x2="125.5" y2="214.5"/>
<line x1="120.5" y1="137.5" x2="125.5" y2="137.5"/>
<line x1="120.5" y1="60.5" x2="125.5" y2="60.5"/>
</g>
<rect x="125.5" y="60.5" width="775" height="385" fill="none" stroke="#000" stroke-width="1.11"/>
<text transform="translate(302.71 51.60) scale(0.9460 1)" x="0.00 11.44 22.65 33.82 44.83 56.28 67.31 73.77 80.52 90.72 100.24 111.26 116.62 122.87 132.26 137.32 148.95 161.59 172.72 182.85 191.97 203.41 208.30 212.24 222.21 232.73 238.47 250.96 261.75 266.60 280.20 291.13 301.66 307.40 319.95 330.61 337.56 349.24 359.93 371.63 382.92 390.20 401.89 408.07 414.32 426.25 437.79" y="0" font-size="17.66">240726/results/EB81_all_0 BeiDou B1(BPSK(2)-B1)</text>
<text transform="translate(458.73 484.60) scale(0.9688 1)" x="0.00 9.84 13.81 22.85 30.53 40.28 45.54 49.45 58.41 67.01 71.55 77.53 86.61 95.45 104.90" y="0" font-size="14.72">Elevation (deg)</text>
<text transform="translate(87.55 317.76) rotate(-90) scale(0.9568 1)" x="0.00 12.79 21.74 30.92 34.39 44.00 52.66 56.95 67.52 78.62 87.15 92.19 101.04 110.94 115.70 126.67" y="0" font-size="14.72">Median CNo dB Hz</text>
<text transform="translate(122.21 465.86) scale(0.9949 1)" x="0.00" y="0" font-size="14.72">0</text>
<text transform="translate(202.81 465.68) scale(0.9737 1)" x="0.00 9.15" y="0" font-size="14.72">10</text>
<text transform="translate(288.40 465.80) scale(0.9773 1)" x="0.00 9.23" y="0" font-size="14.72">20</text>
<text transform="translate(375.06 465.72) scale(0.9752 1)" x="0.00 9.04" y="0" font-size="14.72">30</text>
<text transform="translate(460.84 465.55) scale(0.9949 1)" x="0.00 8.88" y="0" font-size="14.72">40</text>
<text transform="translate(547.05 465.86) scale(0.9670 1)" x="0.00 9.19" y="0" font-size="14.72">50</text>
<text transform="translate(633.23 465.88) scale(1.0119 1)" x="0.00 8.73" y="0" font-size="14.72">60</text>
<text transform="translate(718.65 465.89) scale(0.9843 1)" x="0.00 9.01" y="0" font-size="14.72">70</text>
<text transform="translate(805.41 465.79) scale(1.0002 1)" x="0.00 8.83" y="0" font-size="14.72">80</text>
<text transform="translate(891.96 465.66) scale(1.0109 1)" x="0.00 8.78" y="0" font-size="14.72">90</text>
<text transform="translate(97.81 449.68) scale(0.9737 1)" x="0.00 9.15" y="0" font-size="14.72">10</text>
<text transform="translate(98.40 373.80) scale(0.9773 1)" x="0.00 9.23" y="0" font-size="14.72">20</text>
<text transform="translate(98.06 295.72) scale(0.9752 1)" x="0.00 9.04" y="0" font-size="14.72">30</text>
<text transform="translate(97.84 219.55) scale(0.9949 1)" x="0.00 8.88" y="0" font-size="14.72">40</text>
<text transform="translate(98.05 141.86) scale(0.9670 1)" x="0.00 9.19" y="0" font-size="14.72">50</text>
<text transform="translate(98.23 65.88) scale(1.0119 1)" x="0.00 8.73" y="0" font-size="14.72">60</text>
<rect x="922.5" y="74.5" width="120" height="700" rx="2.78" ry="2.78" fill="#ffffff" stroke="#d6d6d6" stroke-width="1.39"/>
<g fill="none" stroke-width="0.69" stroke-linecap="butt">
<line x1="927.00" y1="86.5" x2="955.90" y2="86.5" stroke="#1f77b4"/>
<line x1="927.00" y1="107.5" x2="955.90" y2="107.5" stroke="#ff7f0e"/>
<line x1="927.00" y1="127.5" x2="955.90" y2="127.5" stroke="#2ca02c"/>
<line x1="927.00" y1="148.5" x2="955.90" y2="148.5" stroke="#d62728"/>
<line x1="927.00" y1="169.5" x2="955.90" y2="169.5" stroke="#9467bd"/>
<line x1="927.00" y1="190.5" x2="955.90" y2="190.5" stroke="#8c564b"/>
<line x1="927.00" y1="211.5" x2="955.90" y2="211.5" stroke="#e377c2"/>
<line x1="927.00" y1="232.5" x2="955.90" y2="232.5" stroke="#7f7f7f"/>
<line x1="927.00" y1="253.5" x2="955.90" y2="253.5" stroke="#bcbd22"/>
<line x1="927.00" y1="274.5" x2="955.90" y2="274.5" stroke="#17becf"/>
<line x1="927.00" y1="295.5" x2="955.90" y2="295.5" stroke="#1f77b4"/>
<line x1="927.00" y1="316.5" x2="955.90" y2="316.5" stroke="#ff7f0e"/>
<line x1="927.00" y1="337.5" x2="955.90" y2="337.5" stroke="#2ca02c"/>
<line x1="927.00" y1="358.5" x2="955.90" y2="358.5" stroke="#d62728"/>
<line x1="927.00" y1="379.5" x2="955.90" y2="379.5" stroke="#9467bd"/>
<line x1="927.00" y1="400.5" x2="955.90" y2="400.5" stroke="#8c564b"/>
<line x1="927.00" y1="421.5" x2="955.90" y2="421.5" stroke="#e377c2"/>
<line x1="927.00" y1="442.5" x2="955.90" y2="442.5" stroke="#7f7f7f"/>
<line x1="927.00" y1="463.5" x2="955.90" y2="463.5" stroke="#bcbd22"/>
<line x1="927.00" y1="484.5" x2="955.90" y2="484.5" stroke="#17becf"/>
<line x1="927.00" y1="505.5" x2="955.90" y2="505.5" stroke="#1f77b4"/>
</g>
<text transform="translate(966.80 89.68) scale(0.9698 1)" x="0.00 9.11 18.06 22.85" y="0" font-size="14.72">11.0</text>
<text transform="translate(966.66 110.79) scale(0.9722 1)" x="0.00 8.97 18.02 22.79" y="0" font-size="14.72">12.0</text>
<text transform="translate(966.54 131.54) scale(0.9838 1)" x="0.00 9.05 17.84 22.53" y="0" font-size="14.72">14.0</text>
<text transform="translate(966.81 152.62) scale(0.9937 1)" x="0.00 8.92 17.68 22.30" y="0" font-size="14.72">19.0</text>
<text transform="translate(966.31 173.77) scale(0.9857 1)" x="0.00 9.15 17.92 22.60" y="0" font-size="14.72">20.0</text>
<text transform="translate(966.57 194.60) scale(0.9722 1)" x="0.00 9.21 18.14 22.91" y="0" font-size="14.72">21.0</text>
<text transform="translate(966.52 215.67) scale(0.9745 1)" x="0.00 9.07 18.10 22.85" y="0" font-size="14.72">22.0</text>
<text transform="translate(966.57 236.54) scale(0.9732 1)" x="0.00 9.29 18.12 22.88" y="0" font-size="14.72">23.0</text>
<text transform="translate(966.33 258.37) scale(0.9859 1)" x="0.00 9.15 17.91 22.59" y="0" font-size="14.72">24.0</text>
<text transform="translate(966.54 279.49) scale(0.9680 1)" x="0.00 9.26 18.21 23.01" y="0" font-size="14.72">25.0</text>
<text transform="translate(966.44 300.44) scale(0.9963 1)" x="0.00 9.05 17.75 22.35" y="0" font-size="14.72">26.0</text>
<text transform="translate(966.50 321.44) scale(0.9789 1)" x="0.00 9.19 18.03 22.75" y="0" font-size="14.72">27.0</text>
<text transform="translate(966.51 342.31) scale(0.9890 1)" x="0.00 9.12 17.86 22.52" y="0" font-size="14.72">28.0</text>
<text transform="translate(966.59 363.20) scale(0.9957 1)" x="0.00 9.01 17.76 22.37" y="0" font-size="14.72">29.0</text>
<text transform="translate(966.00 384.19) scale(0.9842 1)" x="0.00 8.96 17.74 22.42" y="0" font-size="14.72">30.0</text>
<text transform="translate(966.07 405.12) scale(0.9732 1)" x="0.00 8.87 17.91 22.68" y="0" font-size="14.72">32.0</text>
<text transform="translate(966.08 425.98) scale(0.9719 1)" x="0.00 9.09 17.93 22.71" y="0" font-size="14.72">33.0</text>
<text transform="translate(965.95 446.84) scale(0.9845 1)" x="0.00 8.96 17.73 22.42" y="0" font-size="14.72">34.0</text>
<text transform="translate(966.12 466.96) scale(0.9668 1)" x="0.00 9.07 18.02 22.83" y="0" font-size="14.72">35.0</text>
<text transform="translate(965.86 487.99) scale(0.9948 1)" x="0.00 8.86 17.57 22.19" y="0" font-size="14.72">36.0</text>
<text transform="translate(965.93 508.99) scale(0.9775 1)" x="0.00 8.99 17.84 22.58" y="0" font-size="14.72">37.0</text>
</svg>
</body></html>
